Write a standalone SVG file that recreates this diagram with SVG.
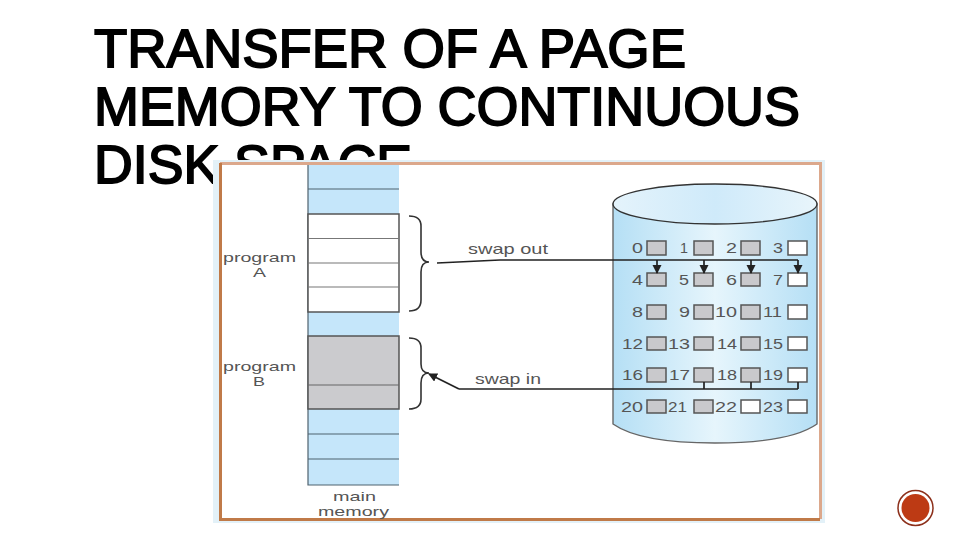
<svg xmlns="http://www.w3.org/2000/svg" width="960" height="540" viewBox="0 0 960 540">
<defs>
<linearGradient id="cyl" x1="0" x2="1" y1="0" y2="0"><stop offset="0" stop-color="#b5dff5"/><stop offset=".5" stop-color="#e6f5fc"/><stop offset="1" stop-color="#b5dff5"/></linearGradient>
<linearGradient id="top" x1="0" x2="1" y1="0" y2="0"><stop offset="0" stop-color="#e4f3fb"/><stop offset=".5" stop-color="#cfeafa"/><stop offset="1" stop-color="#e8f5fb"/></linearGradient>
<marker id="ah" markerWidth="10" markerHeight="10" refX="8" refY="4.500" orient="auto" markerUnits="userSpaceOnUse"><path d="M0 0L9 4.500L0 9Z" fill="#222"/></marker>
</defs>
<style>
.t{font-family:"Liberation Sans",Arial,sans-serif;font-size:54px;fill:#000;stroke:#000;stroke-width:1.800px}
.l{font-family:"Liberation Sans",Arial,sans-serif;font-size:14.500px;fill:#555}
.p{font-family:"Liberation Sans",Arial,sans-serif;font-size:13.500px;fill:#555}
.n{font-family:"Liberation Sans",Arial,sans-serif;font-size:14.500px;fill:#555}
.g{fill:#c9c9cc;stroke:#555;stroke-width:1.5}
.w{fill:#fff;stroke:#555;stroke-width:1.5}
.m{stroke:#4f626e;stroke-width:1.2;fill:none}
.c{stroke:#222;stroke-width:1.700;fill:none}
.b{stroke:#333;stroke-width:1.600;fill:none}
</style>
<g id="title">
<text class="t" x="94" y="67" textLength="592" lengthAdjust="spacingAndGlyphs">TRANSFER OF A PAGE</text>
<text class="t" x="94" y="125" textLength="706" lengthAdjust="spacingAndGlyphs">MEMORY TO CONTINUOUS</text>
<text class="t" x="94" y="183" textLength="318" lengthAdjust="spacingAndGlyphs">DISK SPACE</text>
</g>
<g id="frame">
<rect x="213" y="160" width="612" height="363" fill="#e3f1f8"/>
<rect x="220" y="164" width="600" height="355" fill="#fff"/>
<path d="M220 163.500H820.500V519" fill="none" stroke="#dca88c" stroke-width="3"/>
<path d="M220.500 163V519.500H820" fill="none" stroke="#c07a48" stroke-width="3"/>
</g>
<g id="main-memory">
<rect x="308" y="165" width="91" height="320" fill="#c5e6fa"/>
<path class="m" d="M308 165V485H399M308 189H399M308 434H399M308 459H399"/>
<text class="p" x="333" y="501" textLength="43" lengthAdjust="spacingAndGlyphs">main</text>
<text class="p" x="318" y="516" textLength="71" lengthAdjust="spacingAndGlyphs">memory</text>
</g>
<g id="program-a">
<rect x="308" y="214" width="91" height="98" fill="#fff" stroke="#555" stroke-width="1.5"/>
<path d="M308 238.500H399M308 263H399M308 287H399" stroke="#777" stroke-width="1.2"/>
<path class="b" d="M409 216Q421 216 421 226V252Q421 262 429 262Q421 262 421 272V300Q421 311 409 311"/>
<text class="p" x="223" y="262" textLength="73" lengthAdjust="spacingAndGlyphs">program</text>
<text class="p" x="253" y="277" textLength="13" lengthAdjust="spacingAndGlyphs">A</text>
</g>
<g id="program-b">
<rect x="308" y="336" width="91" height="73" fill="#cbcbce" stroke="#555" stroke-width="1.5"/>
<path d="M308 385H399" stroke="#666" stroke-width="1.2"/>
<path class="b" d="M409 338Q421 338 421 348V364Q421 373 429 373Q421 373 421 383V399Q421 409 409 409"/>
<text class="p" x="223" y="371" textLength="73" lengthAdjust="spacingAndGlyphs">program</text>
<text class="p" x="253" y="386" textLength="12" lengthAdjust="spacingAndGlyphs">B</text>
</g>
<g id="disk">
<path d="M613 204V424Q640 443 715 443Q790 443 817 424V204Z" fill="url(#cyl)" stroke="#666" stroke-width="1.4"/>
<ellipse cx="715" cy="204" rx="102" ry="20" fill="url(#top)" stroke="#333" stroke-width="1.4"/>
<g>
<text class="n" x="632" y="253" textLength="11" lengthAdjust="spacingAndGlyphs">0</text><rect class="g" x="647" y="241" width="19" height="14"/>
<text class="n" x="680" y="253" textLength="8" lengthAdjust="spacingAndGlyphs">1</text><rect class="g" x="694" y="241" width="19" height="14"/>
<text class="n" x="726" y="253" textLength="11" lengthAdjust="spacingAndGlyphs">2</text><rect class="g" x="741" y="241" width="19" height="14"/>
<text class="n" x="773" y="253" textLength="10" lengthAdjust="spacingAndGlyphs">3</text><rect class="w" x="788" y="241" width="19" height="14"/>
<text class="n" x="632" y="285" textLength="11" lengthAdjust="spacingAndGlyphs">4</text><rect class="g" x="647" y="273" width="19" height="13"/>
<text class="n" x="679" y="285" textLength="10" lengthAdjust="spacingAndGlyphs">5</text><rect class="g" x="694" y="273" width="19" height="13"/>
<text class="n" x="726" y="285" textLength="11" lengthAdjust="spacingAndGlyphs">6</text><rect class="g" x="741" y="273" width="19" height="13"/>
<text class="n" x="773" y="285" textLength="10" lengthAdjust="spacingAndGlyphs">7</text><rect class="w" x="788" y="273" width="19" height="13"/>
<text class="n" x="632" y="317" textLength="11" lengthAdjust="spacingAndGlyphs">8</text><rect class="g" x="647" y="305" width="19" height="14"/>
<text class="n" x="679" y="317" textLength="11" lengthAdjust="spacingAndGlyphs">9</text><rect class="g" x="694" y="305" width="19" height="14"/>
<text class="n" x="715" y="317" textLength="22" lengthAdjust="spacingAndGlyphs">10</text><rect class="g" x="741" y="305" width="19" height="14"/>
<text class="n" x="763" y="317" textLength="19" lengthAdjust="spacingAndGlyphs">11</text><rect class="w" x="788" y="305" width="19" height="14"/>
<text class="n" x="622" y="349" textLength="21" lengthAdjust="spacingAndGlyphs">12</text><rect class="g" x="647" y="337" width="19" height="13"/>
<text class="n" x="668" y="349" textLength="22" lengthAdjust="spacingAndGlyphs">13</text><rect class="g" x="694" y="337" width="19" height="13"/>
<text class="n" x="717" y="349" textLength="20" lengthAdjust="spacingAndGlyphs">14</text><rect class="g" x="741" y="337" width="19" height="13"/>
<text class="n" x="763" y="349" textLength="20" lengthAdjust="spacingAndGlyphs">15</text><rect class="w" x="788" y="337" width="19" height="13"/>
<text class="n" x="622" y="380" textLength="21" lengthAdjust="spacingAndGlyphs">16</text><rect class="g" x="647" y="368" width="19" height="14"/>
<text class="n" x="669" y="380" textLength="21" lengthAdjust="spacingAndGlyphs">17</text><rect class="g" x="694" y="368" width="19" height="14"/>
<text class="n" x="717" y="380" textLength="20" lengthAdjust="spacingAndGlyphs">18</text><rect class="g" x="741" y="368" width="19" height="14"/>
<text class="n" x="763" y="380" textLength="20" lengthAdjust="spacingAndGlyphs">19</text><rect class="w" x="788" y="368" width="19" height="14"/>
<text class="n" x="621" y="412" textLength="22" lengthAdjust="spacingAndGlyphs">20</text><rect class="g" x="647" y="400" width="19" height="13"/>
<text class="n" x="668" y="412" textLength="19" lengthAdjust="spacingAndGlyphs">21</text><rect class="g" x="694" y="400" width="19" height="13"/>
<text class="n" x="715" y="412" textLength="22" lengthAdjust="spacingAndGlyphs">22</text><rect class="w" x="741" y="400" width="19" height="13"/>
<text class="n" x="763" y="412" textLength="20" lengthAdjust="spacingAndGlyphs">23</text><rect class="w" x="788" y="400" width="19" height="13"/>
</g>
</g>
<g id="connectors">
<path class="c" d="M437 263L500 260H798"/>
<path class="c" marker-end="url(#ah)" d="M657 260V273"/>
<path class="c" marker-end="url(#ah)" d="M704 260V273"/>
<path class="c" marker-end="url(#ah)" d="M751 260V273"/>
<path class="c" marker-end="url(#ah)" d="M798 260V273"/>
<path class="c" d="M704 382V389M751 382V389M798 382V389M798 389H459"/>
<path class="c" marker-end="url(#ah)" d="M459 389L429 374"/>
<text class="l" x="468" y="254" textLength="80" lengthAdjust="spacingAndGlyphs">swap out</text>
<text class="l" x="475" y="384" textLength="66" lengthAdjust="spacingAndGlyphs">swap in</text>
</g>
<g id="badge">
<circle cx="915.500" cy="508" r="17.500" fill="#fff" stroke="#8c2f1a" stroke-width="1.500"/>
<circle cx="915.500" cy="508" r="14" fill="#bd3a14"/>
</g>
</svg>
